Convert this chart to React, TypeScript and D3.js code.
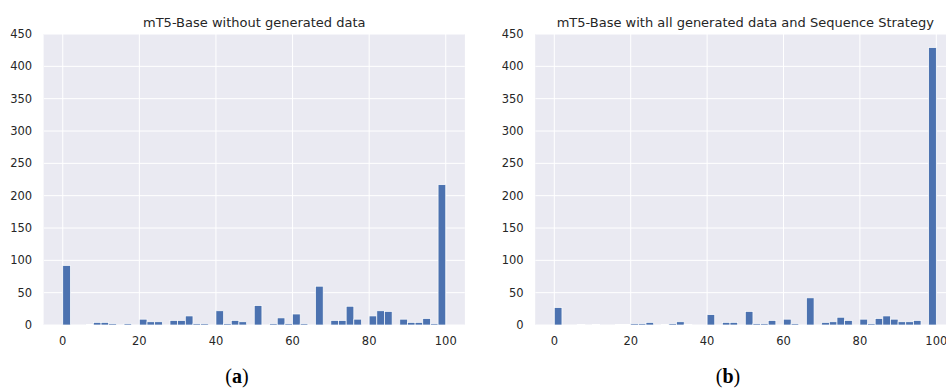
import React from "react";
import * as d3 from "d3";

const binStarts: number[] = d3.range(0, 100, 2);

const seriesA: number[] = [
  92, 0, 0, 1, 4, 4, 2, 0, 2, 0,
  9, 5, 5, 0, 7, 7, 14, 2, 2, 0,
  22, 2, 7, 5, 0, 30, 0, 2, 11, 2,
  17, 2, 0, 60, 0, 7, 7, 29, 9, 0,
  14, 22, 21, 0, 9, 4, 4, 10, 2, 217,
];

const seriesB: number[] = [
  27, 0, 0, 1, 0, 1, 0, 0, 1, 1,
  2, 2, 4, 0, 1, 2, 5, 1, 0, 0,
  16, 0, 4, 4, 0, 21, 2, 2, 7, 0,
  9, 2, 0, 42, 0, 4, 5, 12, 7, 0,
  9, 2, 10, 14, 9, 5, 5, 7, 0, 429,
];

const xTicks: number[] = [0, 20, 40, 60, 80, 100];
const yTicks: number[] = [0, 50, 100, 150, 200, 250, 300, 350, 400, 450];

const titles: string[] = [
  "mT5-Base without generated data",
  "mT5-Base with all generated data and Sequence Strategy",
];
const subLabels: string[] = ["a", "b"];

const BIN_W = 2;
const TOP = 34;
const BOTTOM = 325;
const FONT = "'DejaVu Sans', sans-serif";
const TEXT = "#262626";

interface PanelProps {
  left: number;
  right: number;
  values: number[];
  title: string;
  label: string;
  labelX: number;
  id: string;
}

function Panel({ left, right, values, title, label, labelX, id }: PanelProps) {
  const x = d3.scaleLinear().domain([-5, 105]).range([left, right]);
  const y = d3.scaleLinear().domain([0, 450]).range([BOTTOM, TOP]);
  return (
    <g>
      <defs>
        <clipPath id={id}>
          <rect x={left} y={TOP} width={right - left} height={BOTTOM - TOP} />
        </clipPath>
      </defs>
      <rect x={left} y={TOP} width={right - left} height={BOTTOM - TOP} fill="#EAEAF2" />
      <g clipPath={`url(#${id})`}>
        {yTicks.map((t) => (
          <line key={`gy${t}`} x1={left} x2={right} y1={y(t)} y2={y(t)} stroke="#fff" strokeWidth={1} />
        ))}
        {xTicks.map((t) => (
          <line key={`gx${t}`} x1={x(t)} x2={x(t)} y1={TOP} y2={BOTTOM} stroke="#fff" strokeWidth={1} />
        ))}
        {values.map((v, i) => (
          <rect
            key={`b${i}`}
            x={x(binStarts[i])}
            width={x(binStarts[i] + BIN_W) - x(binStarts[i])}
            y={y(v)}
            height={BOTTOM - y(v)}
            fill="#4C72B0"
            stroke="#fff"
            strokeWidth={0.7}
          />
        ))}
      </g>
      {yTicks.map((t) => (
        <text key={`ty${t}`} x={left - 11.5} y={y(t)} dy="0.36em" textAnchor="end" fontFamily={FONT} fontSize={11.5} fill={TEXT}>
          {t}
        </text>
      ))}
      {xTicks.map((t) => (
        <text key={`tx${t}`} x={x(t)} y={344.5} textAnchor="middle" fontFamily={FONT} fontSize={11.5} fill={TEXT}>
          {t}
        </text>
      ))}
      <text x={(left + right) / 2} y={27} textAnchor="middle" fontFamily={FONT} fontSize={13} fill={TEXT}>
        {title}
      </text>
      <text x={labelX} y={383} textAnchor="middle" fontFamily="'Liberation Serif', 'DejaVu Serif', serif" fontSize={20} fill="#000">
        (<tspan fontWeight="bold">{label}</tspan>)
      </text>
    </g>
  );
}

export default function App() {
  return (
    <svg
      width={946}
      height={388}
      style={{ position: "absolute", left: 0, top: 0, background: "#fff" }}
    >
      <rect x={0} y={0} width={946} height={388} fill="#fff" />
      <Panel left={43.6} right={464.9} values={seriesA} title={titles[0]} label={subLabels[0]} labelX={237} id="clipA" />
      <Panel left={535.2} right={955.4} values={seriesB} title={titles[1]} label={subLabels[1]} labelX={728} id="clipB" />
    </svg>
  );
}
